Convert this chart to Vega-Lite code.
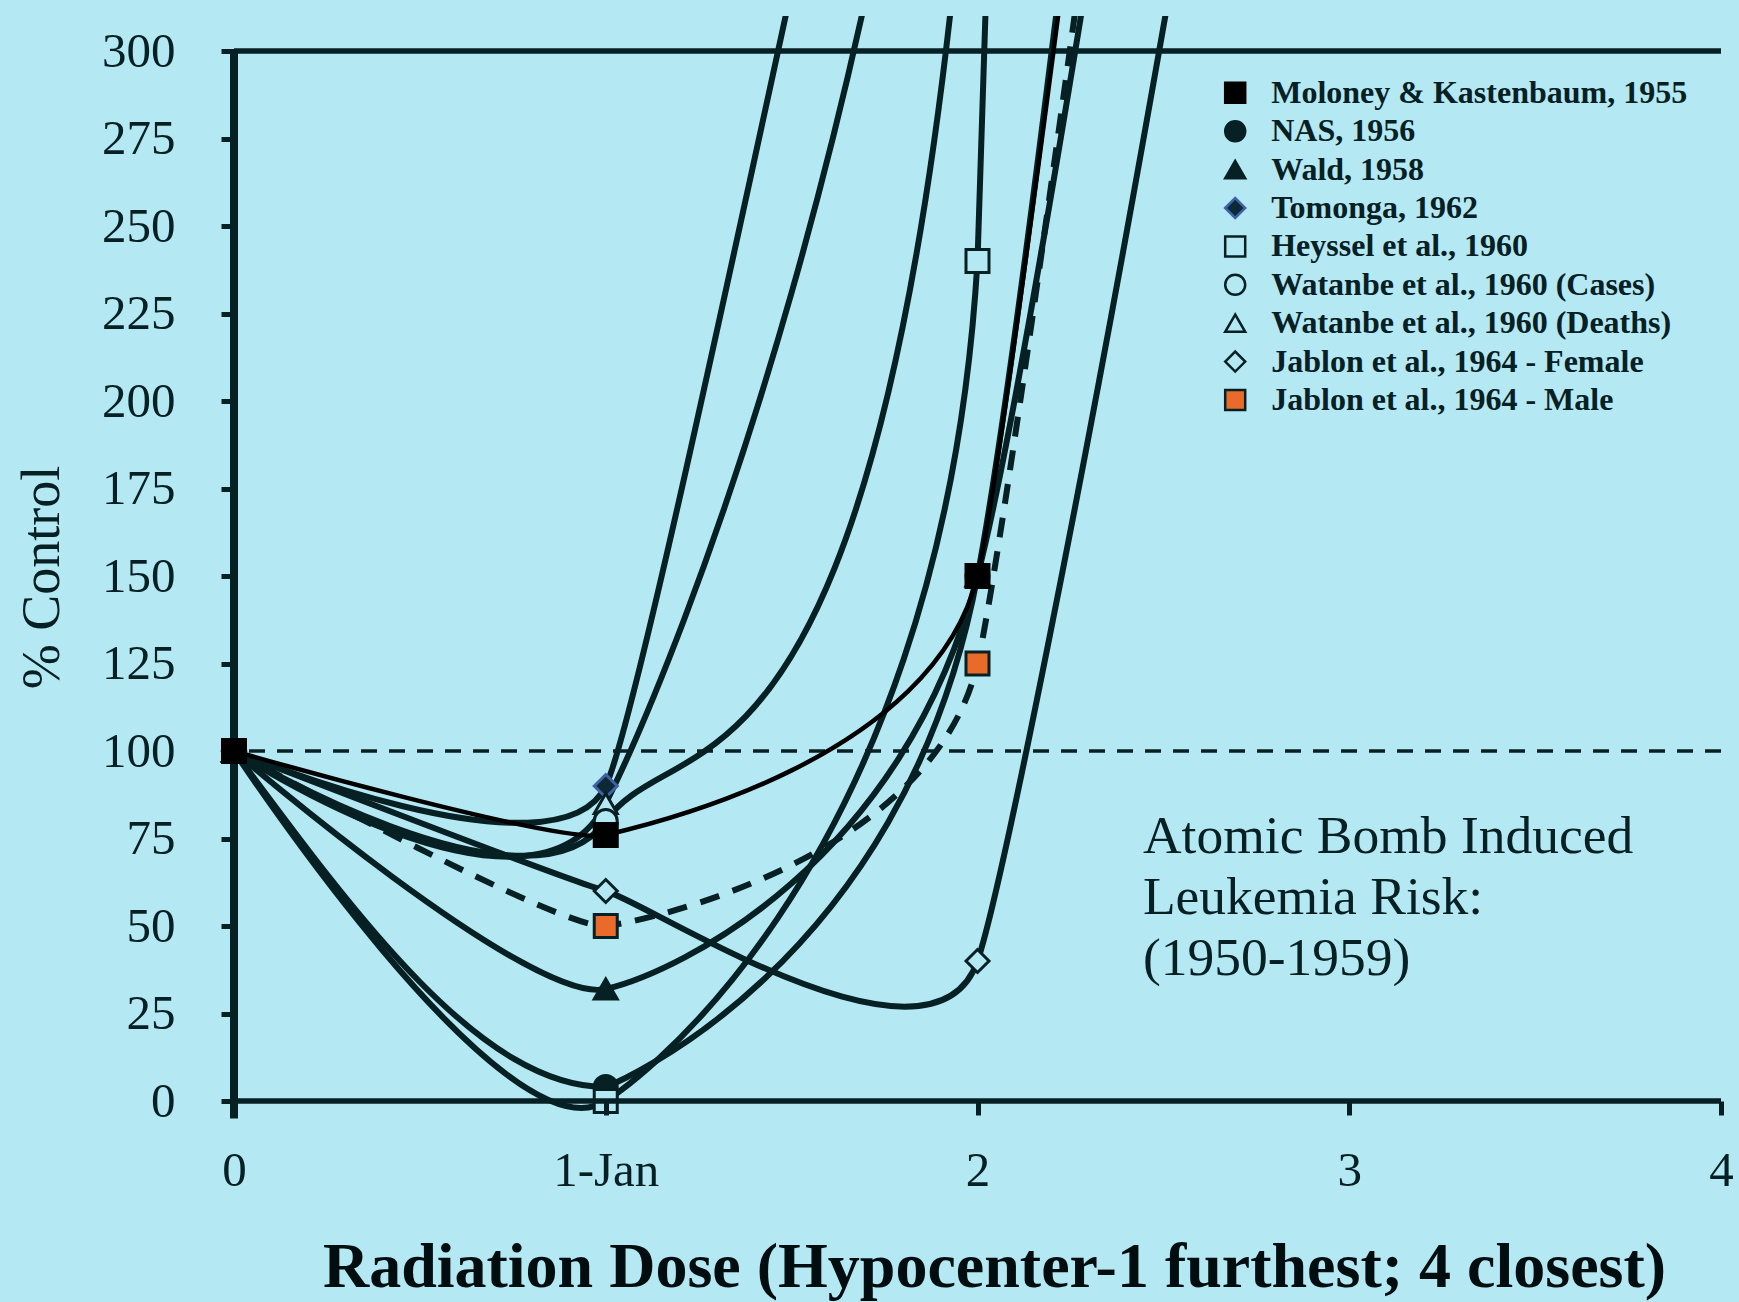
{
  "$schema": "https://vega.github.io/schema/vega-lite/v6.json",
  "width": 1487,
  "height": 1102.5,
  "autosize": {"type": "none"},
  "padding": {"left": 234, "top": 16, "right": 18, "bottom": 183.5},
  "background": "#b4e8f3",
  "config": {"view": {"stroke": null}, "font": "Liberation Serif"},
  "data": {"values": [
    {"series": "NAS, 1956", "x": 0, "y": 100}, {"series": "NAS, 1956", "x": 1, "y": 4}, {"series": "NAS, 1956", "x": 2, "y": 150}, {"series": "NAS, 1956", "x": 3, "y": 1132}, {"series": "NAS, 1956", "x": 4, "y": 3000},
    {"series": "Wald, 1958", "x": 0, "y": 100}, {"series": "Wald, 1958", "x": 1, "y": 32}, {"series": "Wald, 1958", "x": 2, "y": 150}, {"series": "Wald, 1958", "x": 3, "y": 850}, {"series": "Wald, 1958", "x": 4, "y": 2000},
    {"series": "Heyssel et al., 1960", "x": 0, "y": 100}, {"series": "Heyssel et al., 1960", "x": 1, "y": 0}, {"series": "Heyssel et al., 1960", "x": 2, "y": 240}, {"series": "Heyssel et al., 1960", "x": 3, "y": 3614}, {"series": "Heyssel et al., 1960", "x": 4, "y": 6000},
    {"series": "Jablon et al., 1964 - Female", "x": 0, "y": 100}, {"series": "Jablon et al., 1964 - Female", "x": 1, "y": 60}, {"series": "Jablon et al., 1964 - Female", "x": 2, "y": 40}, {"series": "Jablon et al., 1964 - Female", "x": 3, "y": 679}, {"series": "Jablon et al., 1964 - Female", "x": 4, "y": 3000},
    {"series": "Jablon et al., 1964 - Male", "x": 0, "y": 100}, {"series": "Jablon et al., 1964 - Male", "x": 1, "y": 50}, {"series": "Jablon et al., 1964 - Male", "x": 2, "y": 125}, {"series": "Jablon et al., 1964 - Male", "x": 3, "y": 967}, {"series": "Jablon et al., 1964 - Male", "x": 4, "y": 3000},
    {"series": "Tomonga, 1962", "x": 0, "y": 100}, {"series": "Tomonga, 1962", "x": 1, "y": 90}, {"series": "Tomonga, 1962", "x": 2, "y": 546}, {"series": "Tomonga, 1962", "x": 3, "y": 541}, {"series": "Tomonga, 1962", "x": 4, "y": 600},
    {"series": "Watanbe et al., 1960 (Deaths)", "x": 0, "y": 100}, {"series": "Watanbe et al., 1960 (Deaths)", "x": 1, "y": 85}, {"series": "Watanbe et al., 1960 (Deaths)", "x": 2, "y": 527}, {"series": "Watanbe et al., 1960 (Deaths)", "x": 3, "y": 2574}, {"series": "Watanbe et al., 1960 (Deaths)", "x": 4, "y": 3000},
    {"series": "Watanbe et al., 1960 (Cases)", "x": 0, "y": 100}, {"series": "Watanbe et al., 1960 (Cases)", "x": 1, "y": 80}, {"series": "Watanbe et al., 1960 (Cases)", "x": 2, "y": 400}, {"series": "Watanbe et al., 1960 (Cases)", "x": 3, "y": 3300}, {"series": "Watanbe et al., 1960 (Cases)", "x": 4, "y": 3500},
    {"series": "Moloney & Kastenbaum, 1955", "x": 0, "y": 100}, {"series": "Moloney & Kastenbaum, 1955", "x": 1, "y": 76}, {"series": "Moloney & Kastenbaum, 1955", "x": 2, "y": 150}, {"series": "Moloney & Kastenbaum, 1955", "x": 3, "y": 950}, {"series": "Moloney & Kastenbaum, 1955", "x": 4, "y": 1200}
  ]},
  "layer": [
    {
      "data": {"values": [{}]},
      "mark": {"type": "rule", "stroke": "#062024", "strokeWidth": 3.5, "strokeDash": [16, 12]},
      "encoding": {"y": {"datum": 100, "type": "quantitative"}}
    },
    {
      "data": {"values": [{}]},
      "mark": {"type": "rule", "stroke": "#062024", "strokeWidth": 5.5},
      "encoding": {"y": {"datum": 300, "type": "quantitative"}}
    },
    {
      "data": {"values": [{}]},
      "mark": {"type": "rule", "stroke": "#062024", "strokeWidth": 8},
      "encoding": {"x": {"datum": 0, "type": "quantitative"}, "y": {"datum": -5, "type": "quantitative"}, "y2": {"datum": 300}}
    },
    {
      "transform": [{"filter": "datum.series === 'NAS, 1956' && datum.x <= 2"}],
      "mark": {"type": "line", "interpolate": "monotone", "stroke": "#062024", "strokeWidth": 6, "strokeDash": [515.7, 5000], "clip": true},
      "encoding": {
        "x": {"field": "x", "type": "quantitative", "title": "Radiation Dose (Hypocenter-1 furthest; 4 closest)",
          "scale": {"domain": [0, 4], "nice": false, "zero": false},
          "axis": {"values": [0, 1, 2, 3, 4], "format": "d", "labelExpr": "datum.value === 1 ? '1-Jan' : datum.label", "domain": false, "grid": false,
            "tickSize": 14, "tickWidth": 5, "tickColor": "#062024", "offset": -17.5,
            "labelFont": "Liberation Serif", "labelFontSize": 49, "labelColor": "#062024", "labelPadding": 31, "labelFlush": false, "labelOverlap": false,
            "titleFont": "Liberation Serif", "titleFontSize": 64, "titleFontWeight": "bold", "titleColor": "#020d10",
            "titleX": 760, "titleY": 185, "titleBaseline": "alphabetic", "titleAlign": "center", "zindex": 1}},
        "y": {"field": "y", "type": "quantitative", "title": "% Control",
          "scale": {"domain": [-5, 310], "nice": false, "zero": false},
          "axis": {"values": [0, 25, 50, 75, 100, 125, 150, 175, 200, 225, 250, 275, 300], "domain": false, "grid": false,
            "tickSize": 13, "tickWidth": 5, "tickColor": "#062024",
            "labelFont": "Liberation Serif", "labelFontSize": 49, "labelColor": "#062024", "labelPadding": 46,
            "titleFont": "Liberation Serif", "titleFontSize": 54, "titleFontWeight": "normal", "titleColor": "#062024",
            "titleAngle": -90, "titleX": -176, "titleY": 561, "titleBaseline": "alphabetic", "titleAlign": "center"}}
      }
    },
    {
      "transform": [{"filter": "datum.series === 'NAS, 1956' && datum.x >= 1"}],
      "mark": {"type": "line", "interpolate": "cardinal", "tension": 0.4, "stroke": "#062024", "strokeWidth": 6, "clip": true},
      "encoding": {"x": {"field": "x", "type": "quantitative", "title": "Radiation Dose (Hypocenter-1 furthest; 4 closest)"}, "y": {"field": "y", "type": "quantitative", "title": "% Control"}}
    },
    {
      "transform": [{"filter": "datum.series === 'Wald, 1958'"}],
      "mark": {"type": "line", "interpolate": "cardinal", "tension": 0.4, "stroke": "#062024", "strokeWidth": 6, "clip": true},
      "encoding": {"x": {"field": "x", "type": "quantitative", "title": "Radiation Dose (Hypocenter-1 furthest; 4 closest)"}, "y": {"field": "y", "type": "quantitative", "title": "% Control"}}
    },
    {
      "transform": [{"filter": "datum.series === 'Heyssel et al., 1960' && datum.x <= 2"}],
      "mark": {"type": "line", "interpolate": "cardinal", "tension": 0.2, "stroke": "#062024", "strokeWidth": 6, "strokeDash": [534, 5000], "clip": true},
      "encoding": {"x": {"field": "x", "type": "quantitative", "title": "Radiation Dose (Hypocenter-1 furthest; 4 closest)"}, "y": {"field": "y", "type": "quantitative", "title": "% Control"}}
    },
    {
      "transform": [{"filter": "datum.series === 'Heyssel et al., 1960' && datum.x >= 1"}],
      "mark": {"type": "line", "interpolate": "cardinal", "tension": 0.7, "stroke": "#062024", "strokeWidth": 6, "clip": true},
      "encoding": {"x": {"field": "x", "type": "quantitative", "title": "Radiation Dose (Hypocenter-1 furthest; 4 closest)"}, "y": {"field": "y", "type": "quantitative", "title": "% Control"}}
    },
    {
      "transform": [{"filter": "datum.series === 'Jablon et al., 1964 - Female'"}],
      "mark": {"type": "line", "interpolate": "cardinal", "tension": 0.64, "stroke": "#062024", "strokeWidth": 6, "clip": true},
      "encoding": {"x": {"field": "x", "type": "quantitative", "title": "Radiation Dose (Hypocenter-1 furthest; 4 closest)"}, "y": {"field": "y", "type": "quantitative", "title": "% Control"}}
    },
    {
      "transform": [{"filter": "datum.series === 'Jablon et al., 1964 - Male'"}],
      "mark": {"type": "line", "interpolate": "cardinal", "tension": 0.64, "stroke": "#062024", "strokeWidth": 6, "strokeDash": [20, 14], "clip": true},
      "encoding": {"x": {"field": "x", "type": "quantitative", "title": "Radiation Dose (Hypocenter-1 furthest; 4 closest)"}, "y": {"field": "y", "type": "quantitative", "title": "% Control"}}
    },
    {
      "transform": [{"filter": "datum.series === 'Tomonga, 1962'"}],
      "mark": {"type": "line", "interpolate": "cardinal", "tension": 0.616, "stroke": "#062024", "strokeWidth": 6, "clip": true},
      "encoding": {"x": {"field": "x", "type": "quantitative", "title": "Radiation Dose (Hypocenter-1 furthest; 4 closest)"}, "y": {"field": "y", "type": "quantitative", "title": "% Control"}}
    },
    {
      "transform": [{"filter": "datum.series === 'Watanbe et al., 1960 (Deaths)'"}],
      "mark": {"type": "line", "interpolate": "cardinal", "tension": 0.418, "stroke": "#062024", "strokeWidth": 6, "clip": true},
      "encoding": {"x": {"field": "x", "type": "quantitative", "title": "Radiation Dose (Hypocenter-1 furthest; 4 closest)"}, "y": {"field": "y", "type": "quantitative", "title": "% Control"}}
    },
    {
      "transform": [{"filter": "datum.series === 'Watanbe et al., 1960 (Cases)'"}],
      "mark": {"type": "line", "interpolate": "cardinal", "tension": 0.382, "stroke": "#062024", "strokeWidth": 6, "clip": true},
      "encoding": {"x": {"field": "x", "type": "quantitative", "title": "Radiation Dose (Hypocenter-1 furthest; 4 closest)"}, "y": {"field": "y", "type": "quantitative", "title": "% Control"}}
    },
    {
      "transform": [{"filter": "datum.series === 'Moloney & Kastenbaum, 1955'"}],
      "mark": {"type": "line", "interpolate": "cardinal", "tension": 0.64, "stroke": "#000000", "strokeWidth": 4.5, "clip": true},
      "encoding": {"x": {"field": "x", "type": "quantitative", "title": "Radiation Dose (Hypocenter-1 furthest; 4 closest)"}, "y": {"field": "y", "type": "quantitative", "title": "% Control"}}
    },
    {
      "transform": [{"filter": "datum.y <= 310"}],
      "mark": {"type": "point", "filled": true, "size": 529, "strokeWidth": 3, "opacity": 1},
      "encoding": {
        "x": {"field": "x", "type": "quantitative", "title": "Radiation Dose (Hypocenter-1 furthest; 4 closest)"},
        "y": {"field": "y", "type": "quantitative", "title": "% Control"},
        "shape": {"field": "series", "type": "nominal",
          "scale": {"domain": ["Moloney & Kastenbaum, 1955", "NAS, 1956", "Wald, 1958", "Tomonga, 1962", "Heyssel et al., 1960", "Watanbe et al., 1960 (Cases)", "Watanbe et al., 1960 (Deaths)", "Jablon et al., 1964 - Female", "Jablon et al., 1964 - Male"],
            "range": ["square", "circle", "triangle-up", "diamond", "square", "circle", "triangle-up", "diamond", "square"]},
          "legend": {"title": null, "orient": "none", "legendX": 985.2, "legendY": 60.8, "padding": 0, "labelFont": "Liberation Serif", "labelFontSize": 32, "labelFontWeight": "bold", "labelColor": "#062024", "symbolSize": 400, "symbolStrokeWidth": 2.5, "rowPadding": 6.4, "labelOffset": 20, "labelLimit": 700}},
        "fill": {"field": "series", "type": "nominal",
          "scale": {"domain": ["Moloney & Kastenbaum, 1955", "NAS, 1956", "Wald, 1958", "Tomonga, 1962", "Heyssel et al., 1960", "Watanbe et al., 1960 (Cases)", "Watanbe et al., 1960 (Deaths)", "Jablon et al., 1964 - Female", "Jablon et al., 1964 - Male"],
            "range": ["#000000", "#062024", "#062024", "#0b2a33", "#b4e8f3", "#b4e8f3", "#b4e8f3", "#b4e8f3", "#ea6a2a"]},
          "legend": {"title": null, "orient": "none", "legendX": 985.2, "legendY": 60.8, "padding": 0, "labelFont": "Liberation Serif", "labelFontSize": 32, "labelFontWeight": "bold", "labelColor": "#062024", "symbolSize": 400, "symbolStrokeWidth": 2.5, "rowPadding": 6.4, "labelOffset": 20, "labelLimit": 700}},
        "stroke": {"field": "series", "type": "nominal",
          "scale": {"domain": ["Moloney & Kastenbaum, 1955", "NAS, 1956", "Wald, 1958", "Tomonga, 1962", "Heyssel et al., 1960", "Watanbe et al., 1960 (Cases)", "Watanbe et al., 1960 (Deaths)", "Jablon et al., 1964 - Female", "Jablon et al., 1964 - Male"],
            "range": ["#000000", "#062024", "#062024", "#3f61a6", "#062024", "#062024", "#062024", "#062024", "#062024"]},
          "legend": {"title": null, "orient": "none", "legendX": 985.2, "legendY": 60.8, "padding": 0, "labelFont": "Liberation Serif", "labelFontSize": 32, "labelFontWeight": "bold", "labelColor": "#062024", "symbolSize": 400, "symbolStrokeWidth": 2.5, "rowPadding": 6.4, "labelOffset": 20, "labelLimit": 700}}
      }
    },
    {
      "data": {"values": [{}]},
      "mark": {"type": "rule", "stroke": "#062024", "strokeWidth": 5.5},
      "encoding": {"y": {"datum": 0, "type": "quantitative"}}
    },
    {
      "data": {"values": [{}]},
      "mark": {"type": "text", "text": ["Atomic Bomb Induced", "Leukemia Risk:", "(1950-1959)"], "font": "Liberation Serif", "fontSize": 53.5, "align": "left", "baseline": "alphabetic", "lineHeight": 61, "fill": "#062024"},
      "encoding": {"x": {"datum": 2.445, "type": "quantitative"}, "y": {"datum": 70.9, "type": "quantitative"}}
    }
  ]
}
